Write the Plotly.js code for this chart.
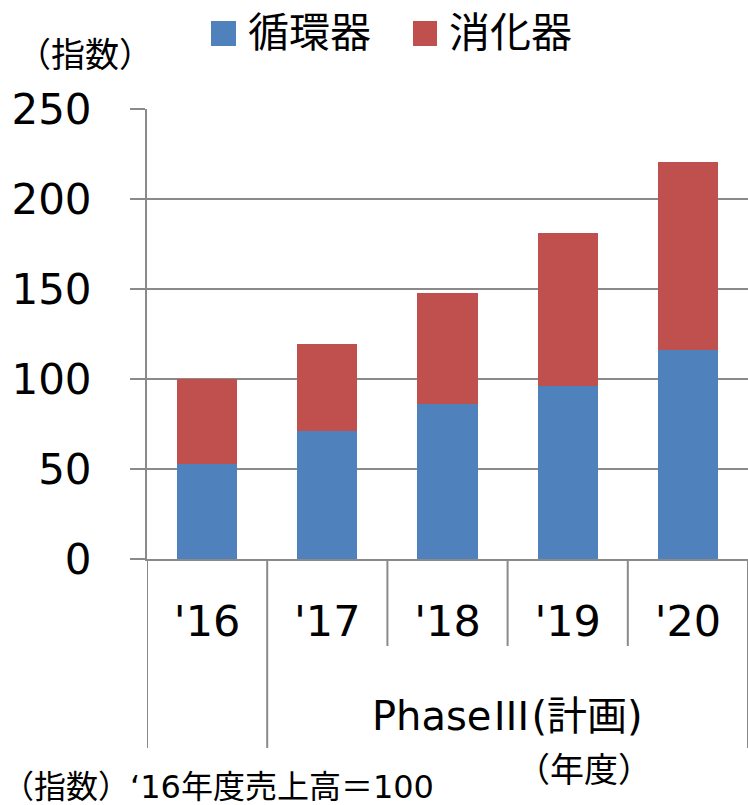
<!DOCTYPE html>
<html>
<head>
<meta charset="utf-8">
<script src="https://cdn.plot.ly/plotly-3.0.1.min.js"></script>
<style>
  html, body { margin: 0; padding: 0; background: #ffffff; }
  #chart { width: 748px; height: 805px; }
</style>
</head>
<body>
<div id="chart"></div>
<script>
// Fiscal years on the category axis
const categories = ["'16", "'17", "'18", "'19", "'20"];
// Sales index ('16 total = 100), stacked by business area
const circulatory = [52.8, 71.3, 86.1, 96.1, 116.1];
const digestive = [47.2, 48.1, 61.7, 85.0, 104.5];
const seriesNames = ["循環器", "消化器"];
const seriesColors = ["#4f81bd", "#c0504d"];
// Axis ticks and text labels
const yTicks = [0, 50, 100, 150, 200, 250];
const groupLabel = "PhaseⅢ(計画)";
const unitLabel = "（指数）";
const yearLabel = "（年度）";
const footnote = "（指数）‘16年度売上高＝100";

const W = 748, H = 805;
const M = { l: 147, r: 0, t: 109, b: 246 };
const PW = W - M.l - M.r, PH = H - M.t - M.b;
// pixel -> paper helpers for page furniture
const px = v => (v - M.l) / PW;
const py = v => (H - M.b - v) / PH;

const FONT = "DejaVu Sans, 'Noto Sans CJK JP', sans-serif";
const CJK = "'Noto Sans CJK JP', sans-serif";
const GRID = "#8a8a8a";

const traces = [
  { type: "bar", x: categories, y: circulatory, name: seriesNames[0],
    marker: { color: seriesColors[0] }, hoverinfo: "skip" },
  { type: "bar", x: categories, y: digestive, name: seriesNames[1],
    marker: { color: seriesColors[1] }, hoverinfo: "skip" }
];

// category dividers below the axis: long ones bound the groups
const shapes = [];
for (let i = 0; i <= categories.length; i++) {
  const long = (i === 0 || i === 1 || i === categories.length);
  shapes.push({
    type: "line", xref: "x", yref: "paper",
    x0: i - 0.5, x1: i - 0.5, y0: 0, y1: long ? py(748) : py(646),
    line: { color: GRID, width: 2 }
  });
}
// legend swatches
shapes.push({ type: "rect", xref: "paper", yref: "paper",
  x0: px(211), x1: px(236), y0: py(46), y1: py(21),
  line: { width: 0 }, fillcolor: seriesColors[0] });
shapes.push({ type: "rect", xref: "paper", yref: "paper",
  x0: px(413), x1: px(437), y0: py(46), y1: py(21),
  line: { width: 0 }, fillcolor: seriesColors[1] });

const ann = (text, x, y, size, xanchor) => ({
  text: text, xref: "paper", yref: "paper", x: px(x), y: py(y),
  xanchor: xanchor || "center", yanchor: "middle", showarrow: false,
  font: { family: FONT, size: size, color: "#000000" }
});

// the Roman numeral reads better in the CJK face
const groupText = groupLabel.replace("Ⅲ",
  "<span style=\"font-family:'Noto Sans CJK JP'\">Ⅲ</span>");

const annotations = [
  ann(seriesNames[0], 246, 33, 41, "left"),
  ann(seriesNames[1], 447, 33, 41, "left"),
  ann(unitLabel, 84.5, 55, 34),
  Object.assign(ann(groupText, 0, 713, 40), { xref: "x", x: 2.5 }),
  ann(yearLabel, 583.5, 770, 34),
  ann(footnote, 0, 787, 32, "left")
];

const layout = {
  width: W, height: H,
  margin: M,
  paper_bgcolor: "#ffffff", plot_bgcolor: "#ffffff",
  barmode: "stack", bargap: 0.5,
  showlegend: false,
  font: { family: FONT, color: "#000000" },
  xaxis: {
    type: "category", range: [-0.5, categories.length - 0.5],
    showgrid: false, zeroline: false,
    showline: true, linecolor: GRID, linewidth: 2,
    ticks: "", ticklabelstandoff: 23,
    tickfont: { family: FONT, size: 43, color: "#000000" },
    fixedrange: true
  },
  yaxis: {
    range: [0, 250], tickvals: yTicks,
    showgrid: true, gridcolor: GRID, gridwidth: 2,
    zeroline: false,
    showline: true, linecolor: GRID, linewidth: 2,
    ticks: "outside", ticklen: 15, tickcolor: GRID, tickwidth: 2,
    ticklabelstandoff: 30,
    tickfont: { family: FONT, size: 42, color: "#000000" },
    fixedrange: true
  },
  shapes: shapes,
  annotations: annotations
};

Plotly.newPlot("chart", traces, layout, { staticPlot: true, displayModeBar: false });
</script>
</body>
</html>
